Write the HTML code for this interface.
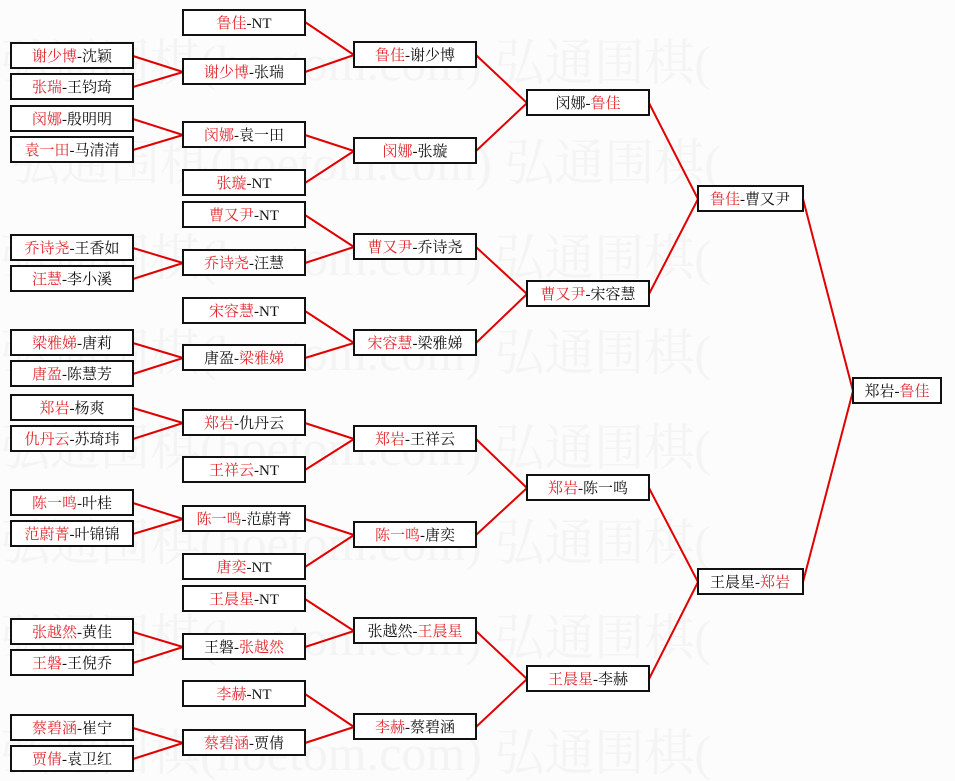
<!DOCTYPE html>
<html><head><meta charset="utf-8"><style>
html,body{margin:0;padding:0;background:#fcfcfc}
svg{display:block}
text{font-family:"Liberation Serif","Noto Serif CJK SC","Noto Sans CJK SC",serif;font-size:15px}
.b{fill:#fff;stroke:#111;stroke-width:2}
.r{fill:#e0282f}
.k{fill:#111}
.w{font-size:50px;fill:#f4f4f4}
</style></head><body>
<svg width="955" height="781" xmlns="http://www.w3.org/2000/svg">
<g class="w">
<text x="0" y="80" class="w">弘通围棋(hoetom.com) 弘通围棋(</text>
<text x="10" y="180" class="w">弘通围棋(hoetom.com) 弘通围棋(</text>
<text x="0" y="275" class="w">弘通围棋(hoetom.com) 弘通围棋(</text>
<text x="0" y="370" class="w">弘通围棋(hoetom.com) 弘通围棋(</text>
<text x="0" y="465" class="w">弘通围棋(hoetom.com) 弘通围棋(</text>
<text x="0" y="560" class="w">弘通围棋(hoetom.com) 弘通围棋(</text>
<text x="0" y="655" class="w">弘通围棋(hoetom.com) 弘通围棋(</text>
<text x="0" y="770" class="w">弘通围棋(hoetom.com) 弘通围棋(</text>
</g>
<g stroke="#e00000" stroke-width="2" fill="none">
<path d="M133 56L183 72M133 87L183 72M133 119L183 135M133 150L183 135M133 248L183 263M133 279L183 263M133 343L183 358M133 374L183 358M133 408L183 423M133 439L183 423M133 503L183 519M133 534L183 519M133 632L183 647M133 663L183 647M133 728L183 743M133 759L183 743"/>
<path d="M305 22L354 55M305 72L354 55M305 135L354 151M305 183L354 151M305 215L354 247M305 263L354 247M305 311L354 343M305 358L354 343M305 423L354 439M305 470L354 439M305 519L354 535M305 567L354 535M305 599L354 631M305 647L354 631M305 694L354 727M305 743L354 727"/>
<path d="M476 55L527 103M476 151L527 103M476 247L527 294M476 343L527 294M476 439L527 488M476 535L527 488M476 631L527 679M476 727L527 679"/>
<path d="M649 103L698 199M649 294L698 199M649 488L698 582M649 679L698 582"/>
<path d="M803 199L853 391M803 582L853 391"/>
</g>
<g>
<rect class="b" x="11" y="43" width="122" height="25"/><text x="72" y="61" text-anchor="middle"><tspan class="r">谢少博</tspan><tspan class="k">-沈颖</tspan></text>
<rect class="b" x="11" y="74" width="122" height="25"/><text x="72" y="92" text-anchor="middle"><tspan class="r">张瑞</tspan><tspan class="k">-王钧琦</tspan></text>
<rect class="b" x="11" y="106" width="122" height="25"/><text x="72" y="124" text-anchor="middle"><tspan class="r">闵娜</tspan><tspan class="k">-殷明明</tspan></text>
<rect class="b" x="11" y="137" width="122" height="25"/><text x="72" y="155" text-anchor="middle"><tspan class="r">袁一田</tspan><tspan class="k">-马清清</tspan></text>
<rect class="b" x="11" y="235" width="122" height="25"/><text x="72" y="253" text-anchor="middle"><tspan class="r">乔诗尧</tspan><tspan class="k">-王香如</tspan></text>
<rect class="b" x="11" y="266" width="122" height="25"/><text x="72" y="284" text-anchor="middle"><tspan class="r">汪慧</tspan><tspan class="k">-李小溪</tspan></text>
<rect class="b" x="11" y="330" width="122" height="25"/><text x="72" y="348" text-anchor="middle"><tspan class="r">梁雅娣</tspan><tspan class="k">-唐莉</tspan></text>
<rect class="b" x="11" y="361" width="122" height="25"/><text x="72" y="379" text-anchor="middle"><tspan class="r">唐盈</tspan><tspan class="k">-陈慧芳</tspan></text>
<rect class="b" x="11" y="395" width="122" height="25"/><text x="72" y="413" text-anchor="middle"><tspan class="r">郑岩</tspan><tspan class="k">-杨爽</tspan></text>
<rect class="b" x="11" y="426" width="122" height="25"/><text x="72" y="444" text-anchor="middle"><tspan class="r">仇丹云</tspan><tspan class="k">-苏琦玮</tspan></text>
<rect class="b" x="11" y="490" width="122" height="25"/><text x="72" y="508" text-anchor="middle"><tspan class="r">陈一鸣</tspan><tspan class="k">-叶桂</tspan></text>
<rect class="b" x="11" y="521" width="122" height="25"/><text x="72" y="539" text-anchor="middle"><tspan class="r">范蔚菁</tspan><tspan class="k">-叶锦锦</tspan></text>
<rect class="b" x="11" y="619" width="122" height="25"/><text x="72" y="637" text-anchor="middle"><tspan class="r">张越然</tspan><tspan class="k">-黄佳</tspan></text>
<rect class="b" x="11" y="650" width="122" height="25"/><text x="72" y="668" text-anchor="middle"><tspan class="r">王磐</tspan><tspan class="k">-王倪乔</tspan></text>
<rect class="b" x="11" y="715" width="122" height="25"/><text x="72" y="733" text-anchor="middle"><tspan class="r">蔡碧涵</tspan><tspan class="k">-崔宁</tspan></text>
<rect class="b" x="11" y="746" width="122" height="25"/><text x="72" y="764" text-anchor="middle"><tspan class="r">贾倩</tspan><tspan class="k">-袁卫红</tspan></text>
<rect class="b" x="183" y="10" width="122" height="25"/><text x="244" y="28" text-anchor="middle"><tspan class="r">鲁佳</tspan><tspan class="k">-NT</tspan></text>
<rect class="b" x="183" y="59" width="122" height="25"/><text x="244" y="77" text-anchor="middle"><tspan class="r">谢少博</tspan><tspan class="k">-张瑞</tspan></text>
<rect class="b" x="183" y="122" width="122" height="25"/><text x="244" y="140" text-anchor="middle"><tspan class="r">闵娜</tspan><tspan class="k">-袁一田</tspan></text>
<rect class="b" x="183" y="170" width="122" height="25"/><text x="244" y="188" text-anchor="middle"><tspan class="r">张璇</tspan><tspan class="k">-NT</tspan></text>
<rect class="b" x="183" y="202" width="122" height="25"/><text x="244" y="220" text-anchor="middle"><tspan class="r">曹又尹</tspan><tspan class="k">-NT</tspan></text>
<rect class="b" x="183" y="250" width="122" height="25"/><text x="244" y="268" text-anchor="middle"><tspan class="r">乔诗尧</tspan><tspan class="k">-汪慧</tspan></text>
<rect class="b" x="183" y="298" width="122" height="25"/><text x="244" y="316" text-anchor="middle"><tspan class="r">宋容慧</tspan><tspan class="k">-NT</tspan></text>
<rect class="b" x="183" y="345" width="122" height="25"/><text x="244" y="363" text-anchor="middle"><tspan class="k">唐盈-</tspan><tspan class="r">梁雅娣</tspan></text>
<rect class="b" x="183" y="410" width="122" height="25"/><text x="244" y="428" text-anchor="middle"><tspan class="r">郑岩</tspan><tspan class="k">-仇丹云</tspan></text>
<rect class="b" x="183" y="457" width="122" height="25"/><text x="244" y="475" text-anchor="middle"><tspan class="r">王祥云</tspan><tspan class="k">-NT</tspan></text>
<rect class="b" x="183" y="506" width="122" height="25"/><text x="244" y="524" text-anchor="middle"><tspan class="r">陈一鸣</tspan><tspan class="k">-范蔚菁</tspan></text>
<rect class="b" x="183" y="554" width="122" height="25"/><text x="244" y="572" text-anchor="middle"><tspan class="r">唐奕</tspan><tspan class="k">-NT</tspan></text>
<rect class="b" x="183" y="586" width="122" height="25"/><text x="244" y="604" text-anchor="middle"><tspan class="r">王晨星</tspan><tspan class="k">-NT</tspan></text>
<rect class="b" x="183" y="634" width="122" height="25"/><text x="244" y="652" text-anchor="middle"><tspan class="k">王磐-</tspan><tspan class="r">张越然</tspan></text>
<rect class="b" x="183" y="681" width="122" height="25"/><text x="244" y="699" text-anchor="middle"><tspan class="r">李赫</tspan><tspan class="k">-NT</tspan></text>
<rect class="b" x="183" y="730" width="122" height="25"/><text x="244" y="748" text-anchor="middle"><tspan class="r">蔡碧涵</tspan><tspan class="k">-贾倩</tspan></text>
<rect class="b" x="354" y="42" width="122" height="25"/><text x="415" y="60" text-anchor="middle"><tspan class="r">鲁佳</tspan><tspan class="k">-谢少博</tspan></text>
<rect class="b" x="354" y="138" width="122" height="25"/><text x="415" y="156" text-anchor="middle"><tspan class="r">闵娜</tspan><tspan class="k">-张璇</tspan></text>
<rect class="b" x="354" y="234" width="122" height="25"/><text x="415" y="252" text-anchor="middle"><tspan class="r">曹又尹</tspan><tspan class="k">-乔诗尧</tspan></text>
<rect class="b" x="354" y="330" width="122" height="25"/><text x="415" y="348" text-anchor="middle"><tspan class="r">宋容慧</tspan><tspan class="k">-梁雅娣</tspan></text>
<rect class="b" x="354" y="426" width="122" height="25"/><text x="415" y="444" text-anchor="middle"><tspan class="r">郑岩</tspan><tspan class="k">-王祥云</tspan></text>
<rect class="b" x="354" y="522" width="122" height="25"/><text x="415" y="540" text-anchor="middle"><tspan class="r">陈一鸣</tspan><tspan class="k">-唐奕</tspan></text>
<rect class="b" x="354" y="618" width="122" height="25"/><text x="415" y="636" text-anchor="middle"><tspan class="k">张越然-</tspan><tspan class="r">王晨星</tspan></text>
<rect class="b" x="354" y="714" width="122" height="25"/><text x="415" y="732" text-anchor="middle"><tspan class="r">李赫</tspan><tspan class="k">-蔡碧涵</tspan></text>
<rect class="b" x="527" y="90" width="122" height="25"/><text x="588" y="108" text-anchor="middle"><tspan class="k">闵娜-</tspan><tspan class="r">鲁佳</tspan></text>
<rect class="b" x="527" y="281" width="122" height="25"/><text x="588" y="299" text-anchor="middle"><tspan class="r">曹又尹</tspan><tspan class="k">-宋容慧</tspan></text>
<rect class="b" x="527" y="475" width="122" height="25"/><text x="588" y="493" text-anchor="middle"><tspan class="r">郑岩</tspan><tspan class="k">-陈一鸣</tspan></text>
<rect class="b" x="527" y="666" width="122" height="25"/><text x="588" y="684" text-anchor="middle"><tspan class="r">王晨星</tspan><tspan class="k">-李赫</tspan></text>
<rect class="b" x="698" y="186" width="105" height="25"/><text x="750" y="204" text-anchor="middle"><tspan class="r">鲁佳</tspan><tspan class="k">-曹又尹</tspan></text>
<rect class="b" x="698" y="569" width="105" height="25"/><text x="750" y="587" text-anchor="middle"><tspan class="k">王晨星-</tspan><tspan class="r">郑岩</tspan></text>
<rect class="b" x="853" y="378" width="88" height="25"/><text x="897" y="396" text-anchor="middle"><tspan class="k">郑岩-</tspan><tspan class="r">鲁佳</tspan></text>
</g>
</svg>
</body></html>
